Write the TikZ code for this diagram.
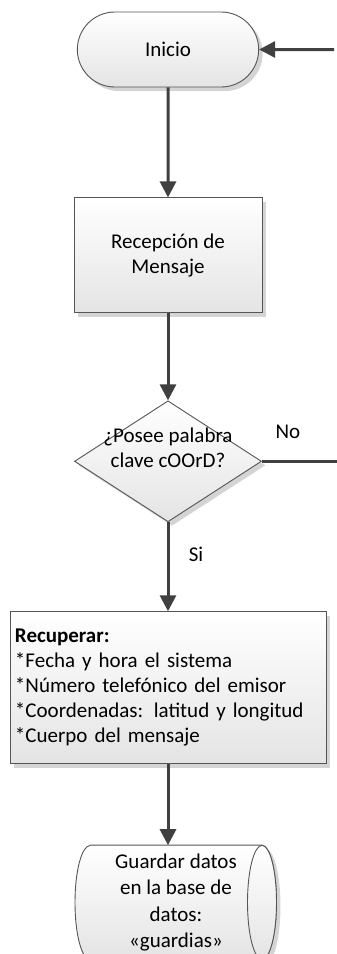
\documentclass[tikz,border=0pt]{standalone}
\usepackage{fontspec}
\setmainfont{Carlito}
\usetikzlibrary{positioning, arrows.meta, shapes.geometric, shapes.misc, shadows, backgrounds}
\definecolor{flowline}{RGB}{64,64,64}
\definecolor{flowborder}{RGB}{85,85,85}
\definecolor{flowfill}{RGB}{228,228,228}
\definecolor{flowshadow}{RGB}{212,212,212}

\begin{document}
\begin{tikzpicture}[
    font=\fontsize{21}{25}\selectfont,
    base/.style={draw=flowborder, line width=0.9pt, top color=white, bottom color=flowfill,
        drop shadow={shadow xshift=4pt, shadow yshift=-4pt, fill=flowshadow, opacity=1}},
    terminal/.style={base, rounded rectangle, minimum width=188pt, minimum height=75pt},
    process/.style={base, rectangle, minimum width=188pt, minimum height=115pt, align=center},
    decision/.style={base, diamond, aspect=1.55, minimum width=187pt, minimum height=121pt, inner sep=0pt},
    storetext/.style={align=center, inner sep=0pt, minimum height=114pt, font=\fontsize{21}{26.5}\selectfont},
    arrow/.style={-{Triangle[length=16pt, width=16pt]}, line width=3pt, draw=flowline},
    link/.style={line width=3pt, draw=flowline}
]

% Page size
\useasboundingbox (0,0) rectangle (337pt,-954pt);

% Steps of the flow
\node[terminal] (start) at (168pt,-49.5pt) {Inicio};
\node[process, below=110pt of start] (receive) {Recepción de\\Mensaje};
\node[decision, below=87pt of receive] (check)
    {\makebox[0pt]{\smash{\raisebox{6pt}{\begin{tabular}{@{}c@{}}¿Posee palabra\\clave cOOrD?\end{tabular}}}}};
\node[process, align=left, text width=306pt, inner xsep=5pt, minimum height=152pt, below=89pt of check] (collect)
    {\textbf{Recuperar:}\\{}*Fecha y hora el sistema\\{}*Número telefónico del emisor\\{}*Coordenadas: latitud y longitud\\{}*Cuerpo del mensaje};
\node[storetext, below=81pt of collect, xshift=8pt] (store) {Guardar datos\\en la base de\\datos:\\«guardias»};

% Outline of the data store (drum lying on its side)
\coordinate (stnw) at ([xshift=-86pt]store.north);
\coordinate (stne) at ([xshift=86pt]store.north);
\coordinate (stsw) at ([xshift=-86pt]store.south);
\coordinate (stend) at ([xshift=86pt]store.center);
\begin{scope}[on background layer]
    \path[base] (stnw) -- (stne) arc[start angle=90, end angle=-90, x radius=14.5pt, y radius=57pt]
        -- (stsw) arc[start angle=270, end angle=90, x radius=15pt, y radius=57pt] -- cycle;
    \path[draw=flowborder, line width=0.9pt, top color=white, bottom color=flowfill]
        (stend) ellipse[x radius=14.5pt, y radius=57pt];
\end{scope}

% Branch labels
\node (nolbl) at ([xshift=26pt, yshift=29pt]check.east) {No};
\node (silbl) at ([xshift=28pt, yshift=-32pt]check.south) {Si};

% Loose ends at the right margin
\coordinate (back) at ([xshift=75pt]start.east);
\coordinate (noexit) at ([xshift=76pt]check.east);

% Connectors
\draw[arrow] (back) -- (start);
\draw[arrow] (start) -- (receive);
\draw[arrow] (receive) -- (check);
\draw[link] (check.east) -- (noexit);
\draw[arrow] (check) -- (collect);
\draw[arrow] (collect.south) -- (collect.south |- store.north);

\end{tikzpicture}
\end{document}
